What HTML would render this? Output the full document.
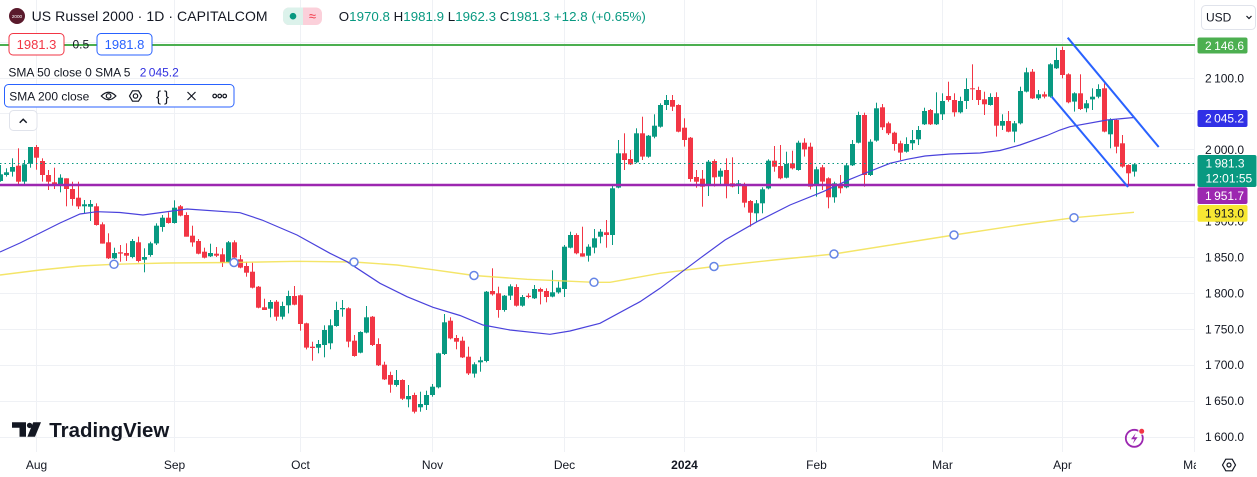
<!DOCTYPE html>
<html><head><meta charset="utf-8">
<style>
html,body{margin:0;padding:0;background:#fff;}
body{width:1257px;height:477px;position:relative;overflow:hidden;}
svg{position:absolute;left:0;top:0;font-family:"Liberation Sans",sans-serif;}
</style></head><body>
<svg id="c" width="1257" height="477" viewBox="0 0 1257 477" xmlns="http://www.w3.org/2000/svg">
<defs><clipPath id="tclip"><rect x="0" y="452" width="1196" height="25"/></clipPath></defs>
<rect x="0" y="0" width="1257" height="477" fill="#fff"/>
<g stroke="#eff1f5" stroke-width="1" fill="none">
<path d="M36.5 0V452M174.5 0V452M300.5 0V452M432.5 0V452M564.5 0V452M684.5 0V452M816.5 0V452M942.5 0V452M1062.5 0V452M1194.5 0V452"/>
<path d="M0 42.5H1195M0 78.5H1195M0 113.5H1195M0 149.5H1195M0 185.5H1195M0 221.5H1195M0 257.5H1195M0 293.5H1195M0 329.5H1195M0 365.5H1195M0 401.5H1195M0 437.5H1195"/>
</g>
<g id="candles"></g>
<polyline fill="none" stroke="#f2e04e" stroke-width="1.4" stroke-opacity="0.85" points="0,275 40,270 80,266 114,264.3 167,263 234,262.5 297,261.3 354,262 397,265 430,269.3 474,275.5 527,279.3 594,282.3 610,282.3 660,273.3 714,266.5 774,260 834,254 894,244.5 954,235 1020,225 1074,217.7 1134,212.3"/>
<polyline fill="none" stroke="#4a42dc" stroke-width="1.2" points="0,252 20,243 40,233 60,223 80,214 97,211.7 120,212.5 143,215 187,209 240,212.7 262,220 297,235 330,253.3 347,261.7 380,283.3 407,296.7 433,307.3 460,315.5 483,325 510,330 550,334.3 570,331 600,323.3 640,301.7 660,288.3 680,273.3 700,258.3 725,240 757,221.7 790,205 823,191.7 850,179.3 863,174 890,163.3 907,159.3 925,156 950,154 980,153 1000,150.5 1020,145 1047,135.5 1060,130 1070,126.7 1107,120 1134,117.5"/>
<g fill="#fff" stroke="#6484e6" stroke-width="1.5">
<circle cx="114" cy="264.3" r="4"/><circle cx="234" cy="262.5" r="4"/><circle cx="354" cy="262" r="4"/><circle cx="474" cy="275.5" r="4"/><circle cx="594" cy="282.3" r="4"/><circle cx="714" cy="266.5" r="4"/><circle cx="834" cy="254" r="4"/><circle cx="954" cy="235" r="4"/><circle cx="1074" cy="217.7" r="4"/>
</g>
<line x1="0" y1="45" x2="1195" y2="45" stroke="#4caf50" stroke-width="2"/>
<line x1="0" y1="185" x2="1195" y2="185" stroke="#9c27b0" stroke-width="2.4"/>
<line x1="0" y1="163.5" x2="1195" y2="163.5" stroke="#089981" stroke-width="1" stroke-dasharray="1.5 3"/>
<line x1="1067.7" y1="37.7" x2="1158.7" y2="147" stroke="#2962ff" stroke-width="2"/>
<line x1="1051.7" y1="96.7" x2="1128" y2="187" stroke="#2962ff" stroke-width="2"/>

<!-- header legend -->
<circle cx="17" cy="16" r="8" fill="#5a1a2c"/>
<text x="17" y="17.8" font-size="4.6" fill="#fff" text-anchor="middle">2000</text>
<text x="31.6" y="21" font-size="14" fill="#131722" textLength="236" lengthAdjust="spacing">US Russel 2000 · 1D · CAPITALCOM</text>
<rect x="283" y="7.5" width="39" height="17.5" rx="6" fill="#fbd0da"/>
<path d="M289 7.5H303V25H289A6 6 0 0 1 283 19V13.5A6 6 0 0 1 289 7.5Z" fill="#dcf2eb"/>
<circle cx="293" cy="16.2" r="3.3" fill="#089981"/>
<text x="312.5" y="20.5" font-size="13" fill="#f23645" text-anchor="middle">≈</text>
<text x="338.8" y="21" font-size="13.3" textLength="307" lengthAdjust="spacing" style="white-space:pre"><tspan fill="#131722">O</tspan><tspan fill="#089981">1970.8</tspan><tspan fill="#131722"> H</tspan><tspan fill="#089981">1981.9</tspan><tspan fill="#131722"> L</tspan><tspan fill="#089981">1962.3</tspan><tspan fill="#131722"> C</tspan><tspan fill="#089981">1981.3 +12.8 (+0.65%)</tspan></text>

<rect x="9" y="33.5" width="55" height="21.5" rx="4" fill="#fff" stroke="#f23645" stroke-width="1"/>
<text x="36.5" y="49" font-size="13" fill="#f23645" text-anchor="middle">1981.3</text>
<text x="72.5" y="48.5" font-size="12" fill="#131722">0.5</text>
<rect x="97" y="33.5" width="55" height="21.5" rx="4" fill="#fff" stroke="#2962ff" stroke-width="1"/>
<text x="124.5" y="49" font-size="13" fill="#2962ff" text-anchor="middle">1981.8</text>

<text x="8.4" y="76.5" font-size="12" fill="#131722">SMA 50 close 0 SMA 5</text>
<text x="139.7" y="76.5" font-size="12" fill="#3131e0">2&#8201;045.2</text>

<rect x="4.5" y="84.5" width="229.5" height="22.5" rx="4" fill="#fff" stroke="#2962ff" stroke-width="1"/>
<text x="9.3" y="100.3" font-size="12" fill="#131722">SMA 200 close</text>
<g fill="none" stroke="#131722" stroke-width="1.2">
<path d="M101.3 96Q108.6 88.5 115.9 96Q108.6 103.5 101.3 96Z"/>
<circle cx="108.6" cy="96" r="2.3"/>
<path d="M129.5 96L132.5 90.8H138.5L141.5 96L138.5 101.2H132.5Z"/>
<circle cx="135.5" cy="96" r="2.2"/>
<path d="M187.5 92L195.5 100M195.5 92L187.5 100"/>
<circle cx="214.7" cy="96" r="1.8"/><circle cx="219.7" cy="96" r="1.8"/><circle cx="224.7" cy="96" r="1.8"/>
</g>
<text x="164" y="101.5" font-size="15" fill="#131722" text-anchor="middle" letter-spacing="3">{}</text>

<rect x="9.5" y="110.5" width="27.5" height="20" rx="4" fill="#fff" stroke="#e0e3eb" stroke-width="1"/>
<polyline points="19.7,122.7 23.2,119.2 26.7,122.7" fill="none" stroke="#131722" stroke-width="1.4"/>

<!-- TradingView logo -->
<path d="M12 422.3H26V436.7H19.5V427.8H12Z" fill="#131722"/>
<circle cx="29.6" cy="425.4" r="2.7" fill="#131722"/>
<path d="M33.2 422.3H41L35 436.7H27.4Z" fill="#131722"/>
<text x="49.3" y="437" font-size="20.5" font-weight="bold" fill="#131722" textLength="120" lengthAdjust="spacingAndGlyphs">TradingView</text>

<!-- price axis -->
<rect x="1201.5" y="5.5" width="54" height="24" rx="4" fill="#fff" stroke="#e0e3eb"/>
<text x="1206" y="21.5" font-size="12" fill="#131722">USD</text>
<polyline points="1246.5,16 1249,18.5 1251.5,16" fill="none" stroke="#131722" stroke-width="1.2"/>
<g font-size="12" fill="#131722">
<text x="1205" y="82.5">2&#8201;100.0</text>
<text x="1205" y="154">2&#8201;000.0</text>
<text x="1205" y="225.6">1&#8201;900.0</text>
<text x="1205" y="261.5">1&#8201;850.0</text>
<text x="1205" y="297.4">1&#8201;800.0</text>
<text x="1205" y="333.3">1&#8201;750.0</text>
<text x="1205" y="369.2">1&#8201;700.0</text>
<text x="1205" y="405.1">1&#8201;650.0</text>
<text x="1205" y="441">1&#8201;600.0</text>
</g>
<rect x="1197.5" y="37.5" width="50" height="16" rx="2" fill="#4caf50"/>
<text x="1205" y="49.8" font-size="12" fill="#fff">2&#8201;146.6</text>
<rect x="1197.5" y="110" width="50" height="17" rx="2" fill="#3030e6"/>
<text x="1205" y="122.6" font-size="12" fill="#fff">2&#8201;045.2</text>
<rect x="1197.5" y="155" width="59" height="32" rx="2" fill="#089981"/>
<text x="1205.5" y="167.5" font-size="12" fill="#fff">1&#8201;981.3</text>
<text x="1205.5" y="182.5" font-size="12" fill="#fff">12:01:55</text>
<rect x="1197.5" y="187.3" width="50" height="16.7" rx="2" fill="#9c27b0"/>
<text x="1205" y="199.9" font-size="12" fill="#fff">1&#8201;951.7</text>
<rect x="1197.5" y="205" width="50" height="16.7" rx="2" fill="#f7e733"/>
<text x="1205" y="217.7" font-size="12" fill="#131722">1&#8201;913.0</text>

<!-- time axis -->
<g font-size="12" fill="#131722" text-anchor="middle" clip-path="url(#tclip)">
<text x="36.5" y="469">Aug</text>
<text x="174.5" y="469">Sep</text>
<text x="300.5" y="469">Oct</text>
<text x="432.5" y="469">Nov</text>
<text x="564.5" y="469">Dec</text>
<text x="684.5" y="469" font-weight="bold">2024</text>
<text x="816.5" y="469">Feb</text>
<text x="942.5" y="469">Mar</text>
<text x="1062.5" y="469">Apr</text>
<text x="1194.5" y="469">May</text>
</g>
<path d="M1222.5 465L1225.8 459.2H1232.2L1235.5 465L1232.2 470.8H1225.8Z" fill="none" stroke="#131722" stroke-width="1.2"/>
<circle cx="1229" cy="465" r="2" fill="none" stroke="#131722" stroke-width="1.2"/>

<!-- lightning -->
<circle cx="1134.3" cy="438.3" r="8.5" fill="none" stroke="#9c27b0" stroke-width="1.8"/>
<path d="M1135.8 433L1131 439.3H1134.5L1132.8 443.8L1137.6 437.3H1134.1Z" fill="#9c27b0"/>
<circle cx="1141.7" cy="431.3" r="3" fill="#f23645" stroke="#fff" stroke-width="1"/>
</svg>
<script>
(function(){
var G='#089981',R='#f23645';
var segs=[
[135,-6,"g118,138,90,140|g112,120,100,125|g96,110,70,125|r92,140,40,152|g88,140,75,148|g36,86,36,98|r36,68,30,104|r78,120,70,140|r120,140,105,165|r142,150,98,162|g128,150,118,172|r130,162,130,214|r162,192,140,212|r188,214,140,222|g208,214,195,234|g207,215,195,258|r214,270,205,272|r268,326,262,326|r322,370,295,372|g354,370,338,372|r352,356,330,380|r354,362,325,378|g318,366,312,370|r322,378,305,382|g366,374,340,412|g325,360,320,365|g272,325,265,330|g248,276,240,290|r248,264,232,266|g218,264,196,266|r214,242,210,244|r240,305,232,305|r302,322,272,335|r318,356,312,358|r350,368,338,370|g354,364,326,366|r356,362,336,366|r358,384,340,396|g322,382,318,384|r322,368,316,372"],
[220,34,"r118,143,105,145|r138,158,125,170|r155,203,128,205|r200,263,198,265|r262,270,236,270|g246,266,240,292|r245,290,240,302|g258,290,245,298|g228,256,212,280|r228,254,198,256|r226,312,224,332|r310,383,308,388|r380,384,365,422|g372,383,360,400|g330,375,316,412|g316,370,298,388|g270,318,245,320|g264,268,240,290|r265,365,262,382|r362,408,345,410|g336,398,334,400|g292,338,258,340|r290,375,288,378|r372,436,355,438|r434,478,425,480|r465,494,455,518|g480,495,450,500|r480,536,478,540|g528,538,495,562|r525,575,518,580|g552,562,515,575|g525,555,512,570|g500,525,492,530|g400,502,398,505|g307,402,282,405|r302,355,292,358|r354,365,345,388|r362,412,350,414|r410,460,380,465"],
[85,73,"g838,866,832,878|g826,832,815,860|g620,828,618,832|r618,628,550,632|r625,675,605,698|g632,675,630,680|g604,632,598,645|r606,662,598,665|g636,662,630,665|r632,636,625,640|g612,640,600,642|r612,620,608,658|r618,636,610,652|g622,635,556,637|g608,622,590,626|g485,612,480,636|g450,488,440,490|r450,505,445,508|r505,515,425,515|g485,512,478,530|g460,488,432,505|g440,455,432,475|r442,450,405,488|g310,450,300,480|g205,308,165,310|r205,225,145,255|r222,238,195,240|g145,232,130,235|r145,215,95,225|g152,215,150,218|g122,155,88,160|g60,125,55,128|g45,60,30,75|r45,65,30,78|r60,140,58,142|r128,165,100,185|r158,282,156,290|r276,290,255,308"],
[80,111,"r296,320,270,380|g245,318,240,348|r243,292,238,320|g272,290,265,315|r270,315,235,355|r310,320,232,322|g310,318,300,342|r312,368,308,382|r363,398,360,440|g370,400,360,425|g328,370,322,400|g242,325,238,328|r242,260,198,275|r258,295,195,298|g252,293,215,295|r250,265,212,268|g188,270,182,272|r188,208,175,230|r200,320,188,328|g268,318,260,350|r262,305,255,330|r295,352,292,385|g310,352,305,368|r312,325,285,340|g256,322,250,325|g192,256,180,258|g105,188,95,190|r105,285,98,320|g185,285,178,288|g85,182,68,185|r82,142,72,150|r130,160,125,165|r158,192,155,212|r190,218,182,240|g192,215,172,218|g180,190,150,210|g150,178,138,195"],
[35,148,"g228,268,218,270|r225,268,222,270|g235,268,172,270|g198,238,175,255|r183,195,140,200|r195,232,175,245|g198,232,185,235|g162,198,130,222|r160,163,88,195|r165,195,155,210|r193,208,170,240|g186,210,175,212|r186,272,172,305|g258,272,238,285|r258,290,228,292|g265,290,258,322|g168,265,155,268|g112,170,98,172|r110,190,102,192|g178,190,165,195|r178,185,170,190|g88,185,85,188|g75,100,38,102|r45,120,35,130|r118,202,115,205|g175,200,172,230|r175,222,118,225|g205,220,195,232|g185,193,160,225|g162,185,148,190|r160,290,145,292|g255,298,250,340|r255,335,252,355|r325,395,300,398|r390,415,388,455|g388,410,385,425"]
];
var s='';
segs.forEach(function(sg){
  var y0=sg[0],k0=sg[1],arr=sg[2].split('|');
  arr.forEach(function(e,i){
    var col=e.charAt(0)==='g'?G:R;
    var v=e.substring(1).split(',').map(Number);
    var k=k0+i,cx=36+6*k;
    var bt=y0+v[0]/3,bb=y0+v[1]/3,wt=y0+v[2]/3,wb=y0+v[3]/3;
    if(bb-bt<1)bb=bt+1;
    s+='<rect x="'+cx+'" y="'+wt.toFixed(1)+'" width="1" height="'+(wb-wt).toFixed(1)+'" fill="'+col+'"/>';
    s+='<rect x="'+(cx-2)+'" y="'+bt.toFixed(1)+'" width="5" height="'+(bb-bt).toFixed(1)+'" fill="'+col+'"/>';
  });
});
document.getElementById('candles').innerHTML=s;
})();
</script>
</body></html>
